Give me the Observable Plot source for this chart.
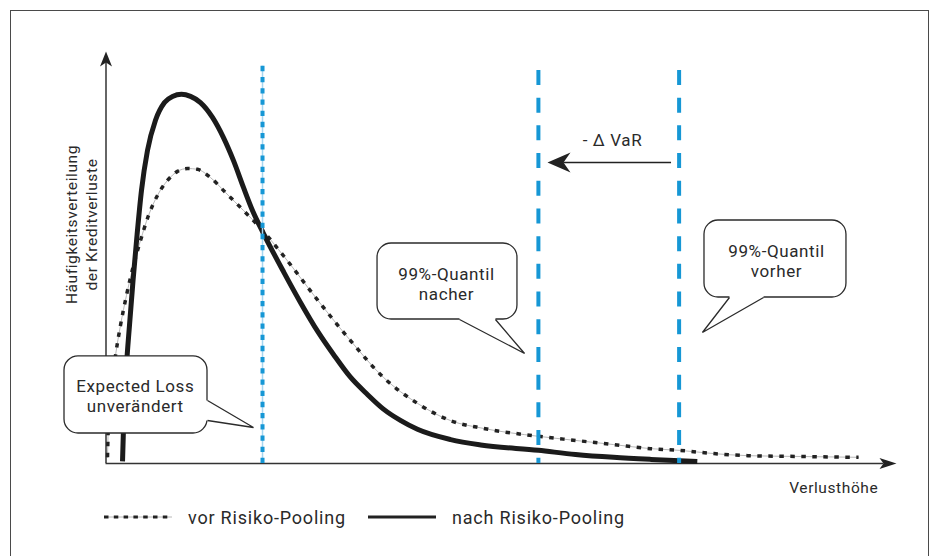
<!DOCTYPE html>
<html>
<head>
<meta charset="utf-8">
<script src="https://cdn.jsdelivr.net/npm/d3@7"></script>
<script src="https://cdn.jsdelivr.net/npm/@observablehq/plot@0.6"></script>
<style>
  body { margin: 0; background: #fff; font-family: Roboto, "Noto Sans", sans-serif; }
  #wrap { position: relative; width: 933px; height: 556px; overflow: hidden; background: #fff; }
  #frame { position: absolute; left: 10px; top: 10px; width: 917px; height: 600px; border: 1.5px solid #4a4a4a; pointer-events: none; }
  #chart { position: absolute; left: 0; top: 0; }
  #chart svg text { letter-spacing: 0.6px; }
  .lg { position: absolute; top: 500px; height: 34px; display: flex; align-items: center; font-size: 18px; color: #2a2a2a; letter-spacing: 0.8px; white-space: nowrap; }
</style>
</head>
<body>
<div id="wrap">
  <div id="chart"></div>
  <div id="frame"></div>
</div>
<script>
// ---- data (arbitrary units, axis span 0..100) ----
const seriesNames = ["vor Risiko-Pooling", "nach Risiko-Pooling"];

const vorLoss = [0.19, 0.32, 0.70, 1.20, 1.83, 2.59, 3.48, 4.36, 5.38, 6.52,
                 7.78, 9.04, 10.31, 11.57, 13.22, 15.1, 17.4, 19.8, 22.5, 26.8,
                 30.9, 35.1, 39.4, 43.6, 47.8, 54.7, 59.4, 64.2, 68.9, 72.5,
                 76.9, 81.2, 87.9, 95.2];
const vorFreq = [1.5, 10.4, 18.9, 26.2, 33.5, 40.8, 48.1, 54.1, 60.2, 65.1,
                 68.7, 70.9, 71.6, 71.4, 69.4, 65.8, 61.4, 56.6, 50.3, 39.6,
                 29.9, 20.9, 14.6, 10.4, 8.5, 6.6, 5.6, 4.6, 3.6, 3.2,
                 2.4, 1.9, 1.7, 1.5];

const nachLoss = [2.09, 2.28, 2.59, 2.97, 3.42, 3.92, 4.49, 5.25, 6.26, 7.40,
                  8.41, 9.55, 10.69, 11.95, 13.47, 14.86, 16.13, 17.39, 18.53, 19.8,
                  22.5, 24.6, 26.8, 28.8, 30.9, 33.1, 35.1, 37.3, 39.4, 43.6,
                  47.4, 54.7, 59.4, 64.2, 68.9, 74.8];
const nachFreq = [0.5, 12.9, 23.8, 33.5, 44.4, 55.3, 66.3, 76.0, 83.3, 87.6,
                  89.1, 89.6, 89.1, 87.6, 84.0, 79.1, 73.5, 67.0, 61.4, 56.3,
                  46.4, 39.1, 32.0, 26.4, 21.0, 16.7, 13.2, 10.4, 8.3, 5.8,
                  4.5, 3.2, 2.2, 1.5, 1.0, 0.5];

const expectedLoss = 19.8;
const quantilNach = 54.7;
const quantilVorher = 72.5;

const calloutTexts = ["Expected Loss\nunverändert", "99%-Quantil\nnacher", "99%-Quantil\nvorher"];
const varLabel = "- Δ VaR";
const xLabel = "Verlusthöhe";
const yLabel = "Häufigkeitsverteilung\nder Kreditverluste";

// ---- build tables ----
const vor = vorLoss.map((x, i) => ({x, y: vorFreq[i]}));
const nach = nachLoss.map((x, i) => ({x, y: nachFreq[i]}));

// annotation layout (data units)
const bubbles = [
  {id: 0, box: [-5.25, 12.84, 7.28, 26.0], tail: [[12.84, 15.29], [18.66, 8.74], [12.84, 10.44]], inset: [-0.5, 0], tx: 3.7, ty: 16.5},
  {id: 1, box: [34.35, 52.05, 34.95, 53.4], tail: [[44.72, 34.95], [52.95, 26.7], [49.27, 34.95]], inset: [0, 0.6], tx: 43.07, ty: 43.7},
  {id: 2, box: [75.71, 93.67, 40.29, 58.98], tail: [[78.87, 40.29], [75.45, 31.8], [83.18, 40.29]], inset: [0, 0.6], tx: 84.82, ty: 49.3}
].map((b, i) => ({...b, text: calloutTexts[i]}));

const boxes = bubbles.map(b => ({x1: b.box[0], x2: b.box[1], y1: b.box[2], y2: b.box[3]}));
const tailFill = bubbles.flatMap(b => {
  const [p, t, q] = b.tail;
  const pts = [[p[0] + b.inset[0], p[1] + b.inset[1]], p, t, q, [q[0] + b.inset[0], q[1] + b.inset[1]]];
  return pts.map(([x, y]) => ({id: b.id, x, y}));
});
const tailStroke = bubbles.flatMap(b => b.tail.map(([x, y]) => ({id: b.id, x, y})));

// arrowhead symbols (tip at origin)
const headUp = (L, w, n) => ({draw(c) { c.moveTo(0, 0); c.lineTo(w, L); c.lineTo(0, n); c.lineTo(-w, L); c.closePath(); }});
const headRight = (L, w, n) => ({draw(c) { c.moveTo(0, 0); c.lineTo(-L, w); c.lineTo(-n, 0); c.lineTo(-L, -w); c.closePath(); }});
const headLeft = (L, w, n) => ({draw(c) { c.moveTo(0, 0); c.lineTo(L, w); c.lineTo(n, 0); c.lineTo(L, -w); c.closePath(); }});

const ink = "#222";
const blue = "#1697d5";
const lightBlue = "#a6d6f0";
const txt = "#2a2a2a";
const font = "Roboto";

const plot = Plot.plot({
  width: 933,
  height: 500,
  marginLeft: 105.5,
  marginRight: 37,
  marginTop: 51,
  marginBottom: 37,
  x: {domain: [0, 100], axis: null},
  y: {domain: [0, 100], axis: null},
  style: {fontFamily: font, background: "transparent", overflow: "visible"},
  marks: [
    // axes
    Plot.ruleX([0], {y1: 0, y2: 97.3, stroke: "#333", strokeWidth: 1.5}),
    Plot.ruleY([0], {x1: 0, x2: 98.4, stroke: "#333", strokeWidth: 1.5}),
    Plot.dot([{x: 0, y: 100}], {x: "x", y: "y", symbol: headUp(15, 6, 11), fill: ink, stroke: "none"}),
    Plot.dot([{x: 100, y: 0}], {x: "x", y: "y", symbol: headRight(17, 5.5, 13), fill: ink, stroke: "none"}),
    // curves
    Plot.line(vor, {x: "x", y: "y", curve: "monotone-x", stroke: "#b8b8b8", strokeWidth: 1}),
    Plot.line(vor, {x: "x", y: "y", curve: "monotone-x", stroke: ink, strokeWidth: 3.5, strokeDasharray: "4.5,6.5", strokeLinecap: "butt"}),
    Plot.line(nach, {x: "x", y: "y", curve: "monotone-x", stroke: "#1b1b1b", strokeWidth: 5, strokeLinecap: "butt"}),
    // markers
    Plot.ruleX([expectedLoss], {y1: 96.4, y2: 0, stroke: lightBlue, strokeWidth: 1.5}),
    Plot.ruleX([expectedLoss], {y1: 96.4, y2: 0, stroke: blue, strokeWidth: 4, strokeDasharray: "5.3,5.9"}),
    Plot.ruleX([quantilNach, quantilVorher], {y1: 95.4, y2: 0, stroke: blue, strokeWidth: 4, strokeDasharray: "15,12.7"}),
    // VaR arrow
    Plot.ruleY([73.06], {x1: 71.54, x2: 57.9, stroke: ink, strokeWidth: 1.3}),
    Plot.dot([{x: 55.85, y: 73.06}], {x: "x", y: "y", symbol: headLeft(23, 10, 16), fill: ink, stroke: "none"}),
    Plot.text([varLabel], {x: 64.07, y: 78.4, text: d => d, fontSize: 17, fill: txt, fontFamily: font}),
    // callouts
    Plot.rect(boxes, {x1: "x1", x2: "x2", y1: "y1", y2: "y2", rx: 14, fill: "white", stroke: "#2b2b2b", strokeWidth: 1.3}),
    Plot.line(tailFill, {x: "x", y: "y", z: "id", fill: "white", stroke: "none", curve: "linear"}),
    Plot.line(tailStroke, {x: "x", y: "y", z: "id", stroke: "#2b2b2b", strokeWidth: 1.3, curve: "linear", strokeLinecap: "butt", strokeLinejoin: "miter"}),
    Plot.text(bubbles, {x: "tx", y: "ty", text: "text", fontSize: 17, lineHeight: 1.2, fill: txt, fontFamily: font}),
    // axis labels
    Plot.text([yLabel], {x: -3.23, y: 58, text: d => d, rotate: -90, fontSize: 15.5, lineHeight: 1.29, fill: txt, fontFamily: font}),
    Plot.text([xLabel], {x: 97.7, y: -6.07, text: d => d, textAnchor: "end", fontSize: 15.5, fill: txt, fontFamily: font})
  ]
});
document.getElementById("chart").appendChild(plot);

// legend below the chart
const wrap = document.getElementById("wrap");
function legendItem(left, html) {
  const d = document.createElement("div");
  d.className = "lg";
  d.style.left = left + "px";
  d.innerHTML = html;
  wrap.appendChild(d);
}
legendItem(104, `<svg width="68" height="8"><line x1="0" y1="4" x2="68" y2="4" stroke="#b8b8b8" stroke-width="1"/><line x1="0" y1="4" x2="68" y2="4" stroke="${ink}" stroke-width="3" stroke-dasharray="4.5,5.3"/></svg>`);
legendItem(188, seriesNames[0]);
legendItem(368, `<svg width="68" height="8"><line x1="0" y1="4" x2="68" y2="4" stroke="${ink}" stroke-width="3"/></svg>`);
legendItem(452, seriesNames[1]);
</script>
</body>
</html>
